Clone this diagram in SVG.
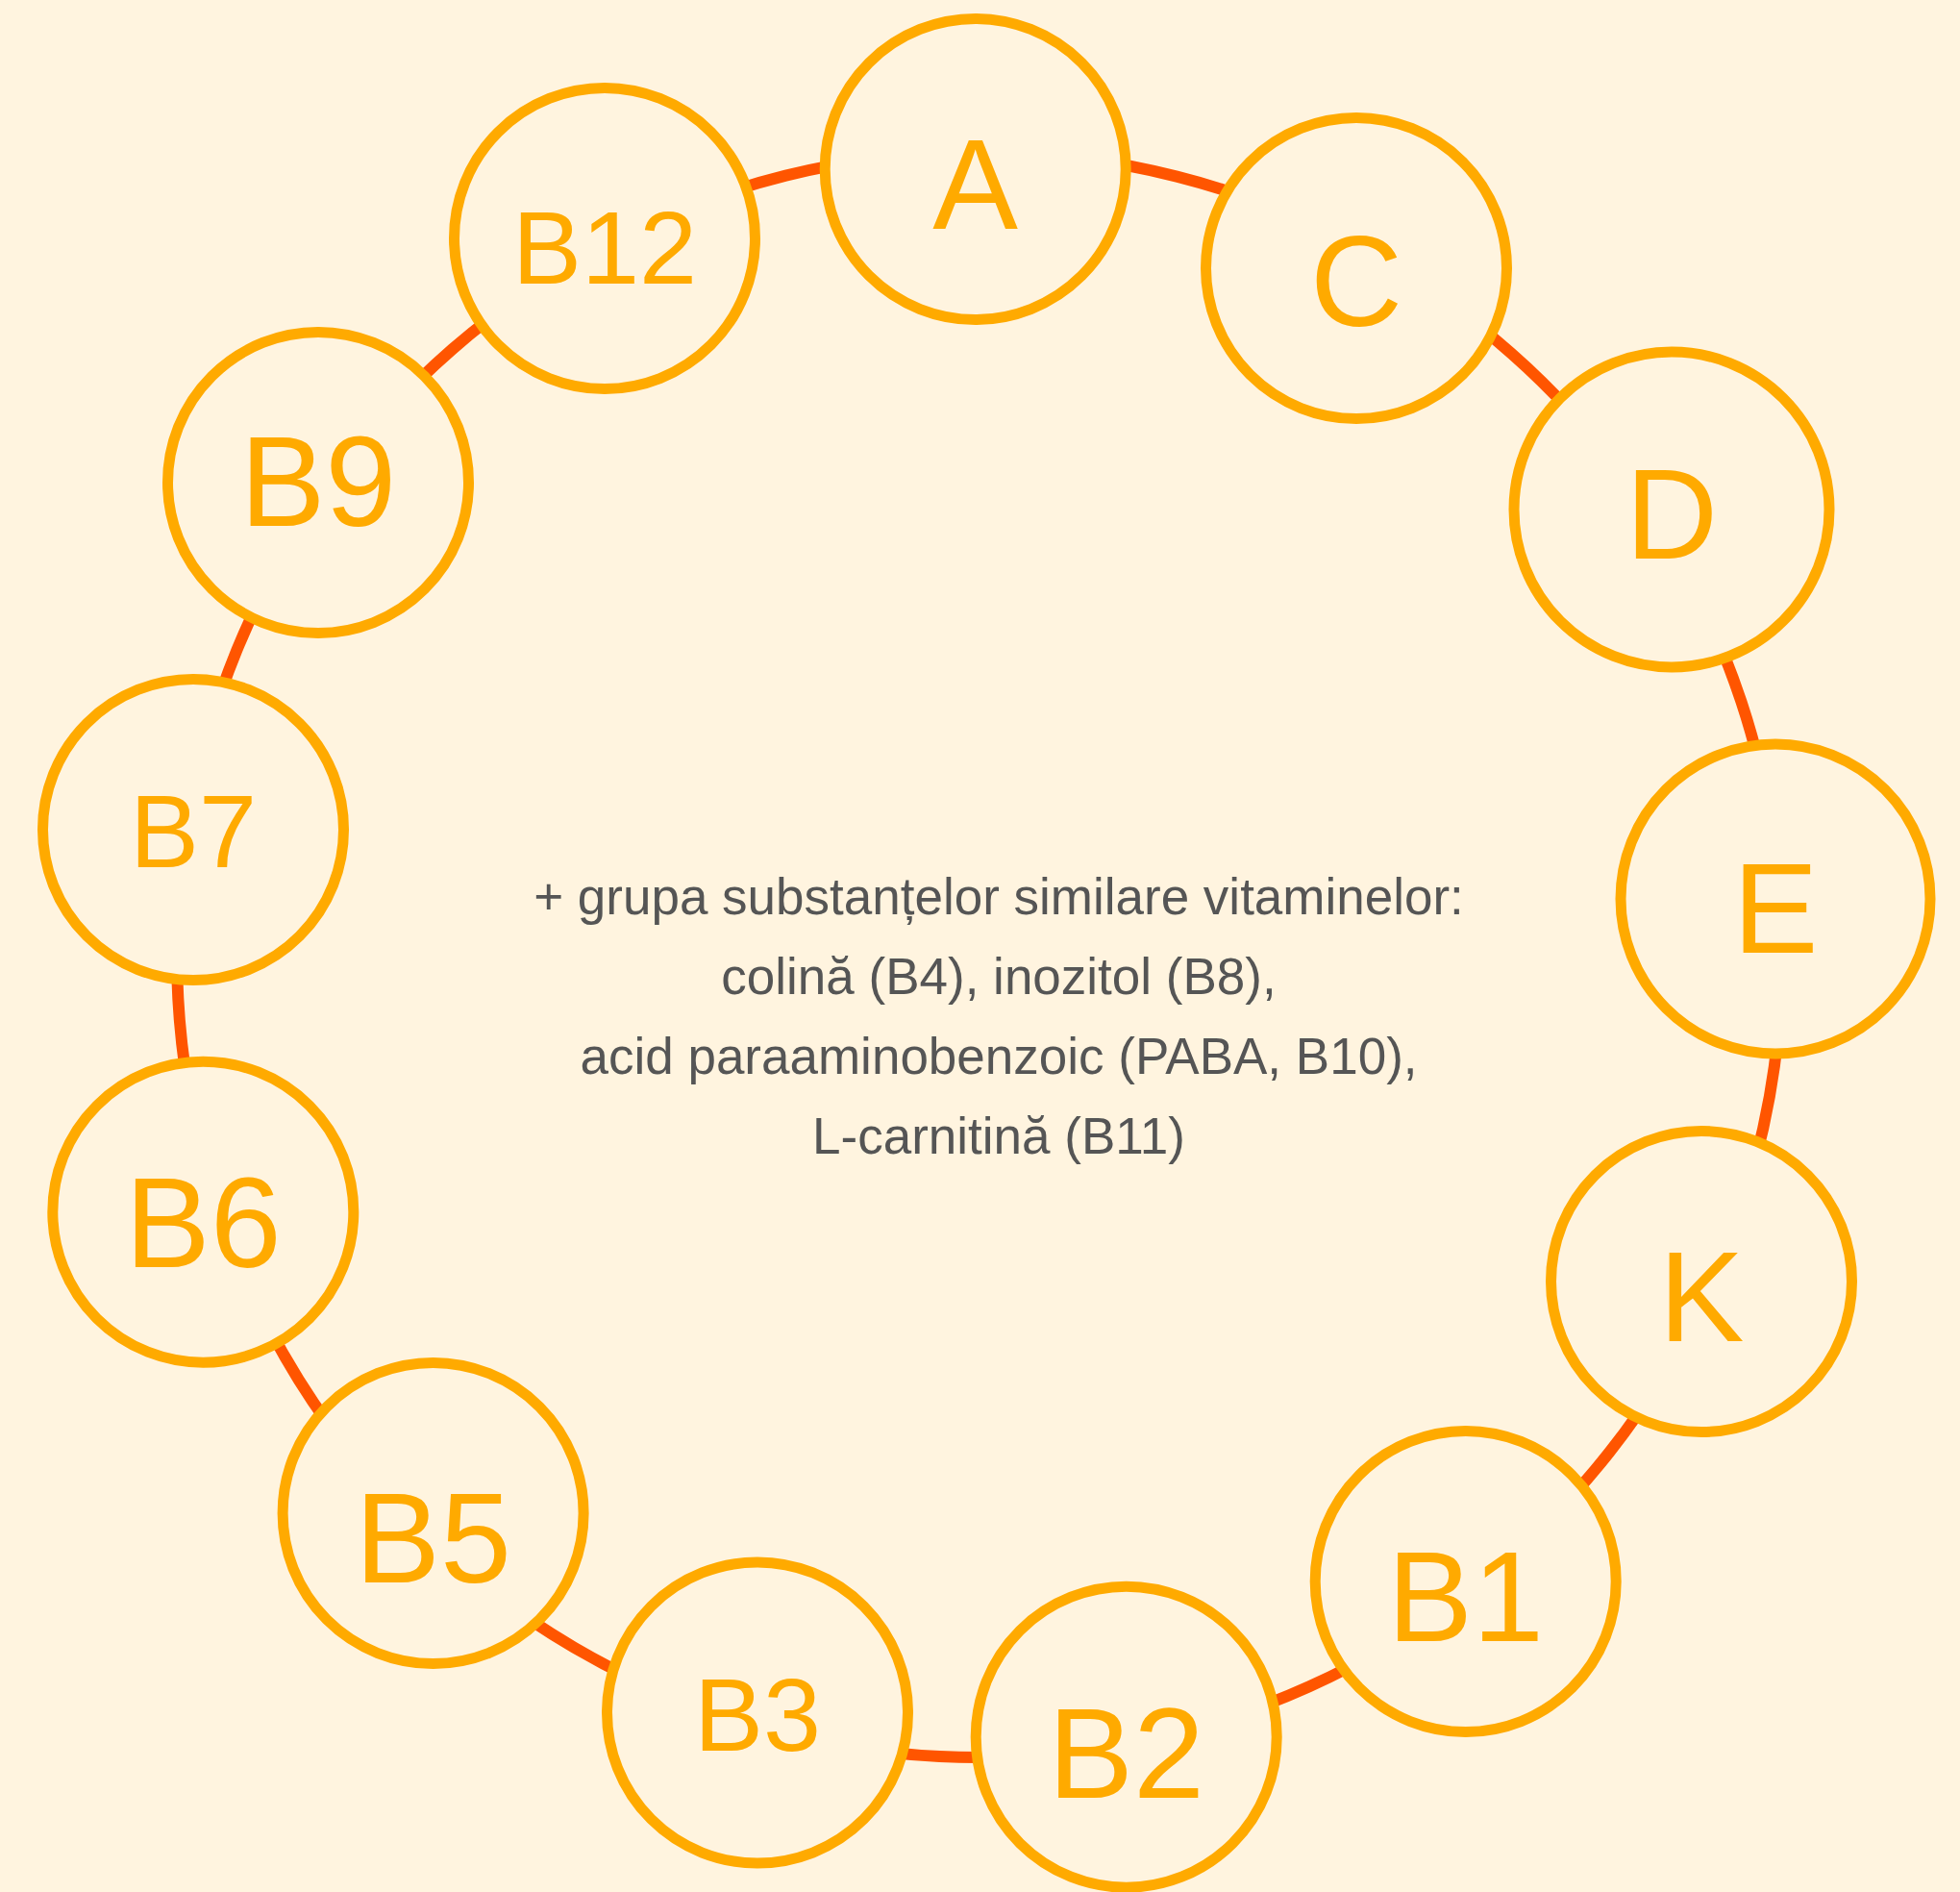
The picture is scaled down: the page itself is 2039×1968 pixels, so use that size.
<svg xmlns="http://www.w3.org/2000/svg" width="2039" height="1968" viewBox="0 0 2039 1968">
<style>
.bg{fill:#FFF4DF}
.node circle{fill:#FFF4DF;stroke:#FFAA00;stroke-width:11}
.node text{font-family:"Liberation Sans",Arial,sans-serif;fill:#FFAA00;text-anchor:middle}
.big{font-size:133px}
.small{font-size:108px}
.edge{fill:none;stroke:#FF5500;stroke-width:12}
.note{font-family:"Liberation Sans",Arial,sans-serif;font-size:53px;fill:#555555;text-anchor:middle}
</style>
<rect class="bg" x="0" y="0" width="2039" height="1968"/>
<g id="connectors">
<path class="edge" d="M1014.6,158.0 A835,835 0 0 1 1420.9,261.0"/>
<path class="edge" d="M1420.9,261.0 A835,835 0 0 1 1721.3,541.3"/>
<path class="edge" d="M1721.3,541.3 A835,835 0 0 1 1851.9,934.6"/>
<path class="edge" d="M1851.9,934.6 A835,835 0 0 1 1779.7,1337.4"/>
<path class="edge" d="M1779.7,1337.4 A835,835 0 0 1 1530.8,1652.8"/>
<path class="edge" d="M1530.8,1652.8 A835,835 0 0 1 1173.1,1813.6"/>
<path class="edge" d="M1173.1,1813.6 A835,835 0 0 1 784.3,1794.4"/>
<path class="edge" d="M784.3,1794.4 A835,835 0 0 1 435.1,1589.9"/>
<path class="edge" d="M435.1,1589.9 A835,835 0 0 1 226.4,1255.6"/>
<path class="edge" d="M226.4,1255.6 A835,835 0 0 1 194.4,862.0"/>
<path class="edge" d="M194.4,862.0 A835,835 0 0 1 339.2,508.0"/>
<path class="edge" d="M339.2,508.0 A835,835 0 0 1 631.7,253.2"/>
<path class="edge" d="M631.7,253.2 A835,835 0 0 1 1014.6,158.0"/>
</g>
<g id="node-A" class="node"><circle cx="1014.7" cy="176" r="156.5"/><text class="big" x="1014.7" y="238">A</text></g>
<g id="node-C" class="node"><circle cx="1411" cy="279" r="156.5"/><text class="big" x="1411" y="338.5">C</text></g>
<g id="node-D" class="node"><circle cx="1739" cy="530" r="164"/><text class="big" x="1739" y="581">D</text></g>
<g id="node-E" class="node"><circle cx="1847" cy="935" r="161"/><text class="big" x="1847" y="991">E</text></g>
<g id="node-K" class="node"><circle cx="1770" cy="1333" r="156.5"/><text class="big" x="1770" y="1395">K</text></g>
<g id="node-B1" class="node"><circle cx="1524.7" cy="1645" r="156.5"/><text class="big" x="1524.7" y="1707">B1</text></g>
<g id="node-B2" class="node"><circle cx="1171.7" cy="1806.7" r="156.5"/><text class="big" x="1171.7" y="1870">B2</text></g>
<g id="node-B3" class="node"><circle cx="788" cy="1781.5" r="156.5"/><text class="small" x="788" y="1820.7">B3</text></g>
<g id="node-B5" class="node"><circle cx="450.6" cy="1574" r="156.5"/><text class="big" x="450.6" y="1646">B5</text></g>
<g id="node-B6" class="node"><circle cx="211.3" cy="1260.7" r="156.5"/><text class="big" x="211.3" y="1318">B6</text></g>
<g id="node-B7" class="node"><circle cx="201" cy="863" r="156.5"/><text class="small" x="201" y="901.7">B7</text></g>
<g id="node-B9" class="node"><circle cx="331" cy="502" r="156.5"/><text class="big" x="331" y="547.3">B9</text></g>
<g id="node-B12" class="node"><circle cx="629" cy="248" r="156.5"/><text class="small" x="629" y="295">B12</text></g>
<g id="note">
<text class="note" x="1039" y="951">+ grupa substanțelor similare vitaminelor:</text>
<text class="note" x="1039" y="1034">colină (B4), inozitol (B8),</text>
<text class="note" x="1039" y="1117">acid paraaminobenzoic (PABA, B10),</text>
<text class="note" x="1039" y="1200">L-carnitină (B11)</text>
</g>
</svg>
